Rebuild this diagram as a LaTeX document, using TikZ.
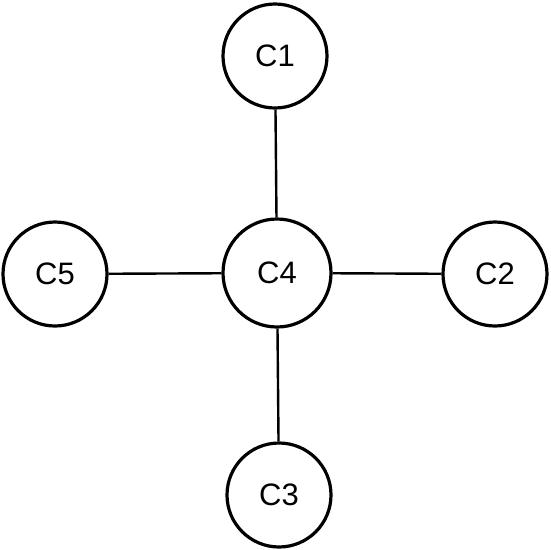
\documentclass[tikz,border=0pt]{standalone}
\usepackage{fontspec}
\setmainfont{Liberation Sans}
\begin{document}
\begin{tikzpicture}[x=1pt,y=-1pt,
  cnode/.style={circle,draw,line width=3.2pt,minimum size=104pt,inner sep=0pt,font=\fontsize{31}{32}\selectfont},
  link/.style={line width=2.4pt}]
\useasboundingbox (0,0) rectangle (550,550);
\node[cnode] (c1) at (275,56) {C1};
\node[cnode,minimum size=108pt] (c4) at (277,273) {C4};
\node[cnode] (c5) at (55,274) {C5};
\node[cnode] (c2) at (495,274) {C2};
\node[cnode] (c3) at (279,495) {C3};
\draw[link] (c1) -- (c4);
\draw[link] (c4) -- (c3);
\draw[link] (c5) -- (c4);
\draw[link] (c4) -- (c2);
\end{tikzpicture}
\end{document}
